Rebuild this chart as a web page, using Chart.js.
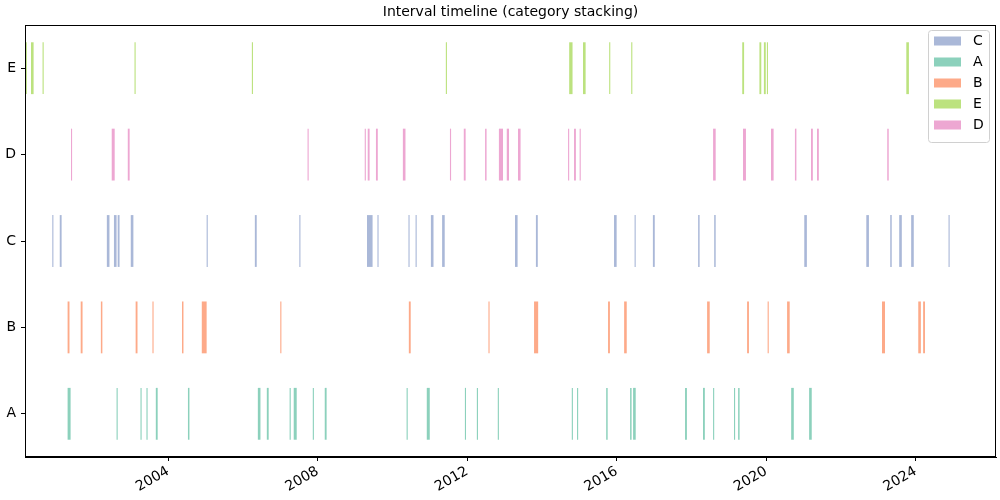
<!DOCTYPE html>
<html>
<head>
<meta charset="utf-8">
<script src="https://cdn.jsdelivr.net/npm/chart.js@4.4.1/dist/chart.umd.min.js"></script>
<style>
  body { margin: 0; background: #fff; }
  #wrap { width: 1000px; height: 500px; }
</style>
</head>
<body>
<div id="wrap"><canvas id="timeline"></canvas></div>
<script>
// rows, top to bottom
const categories = ['E', 'D', 'C', 'B', 'A'];
const tickYears = [2004, 2008, 2012, 2016, 2020, 2024];
const xMin = 2000.17;
const xMax = 2026.15;
const chartTitle = 'Interval timeline (category stacking)';

// intervals as [start, end] in decimal years
const intervalsC = [
    [2000.90, 2000.93], [2001.10, 2001.15], [2002.36, 2002.43], [2002.55, 2002.62], [2002.65, 2002.70],
    [2003.00, 2003.07], [2005.03, 2005.06], [2006.32, 2006.37], [2007.51, 2007.54], [2009.32, 2009.47],
    [2009.60, 2009.63], [2010.43, 2010.46], [2010.62, 2010.65], [2011.03, 2011.10], [2011.33, 2011.40],
    [2013.28, 2013.35], [2013.84, 2013.89], [2015.93, 2016.00], [2016.48, 2016.51], [2016.97, 2017.02],
    [2018.18, 2018.22], [2018.61, 2018.65], [2021.02, 2021.09], [2022.68, 2022.75], [2023.32, 2023.36],
    [2023.56, 2023.63], [2023.88, 2023.95], [2024.88, 2024.91]
];
const intervalsA = [
    [2001.31, 2001.39], [2002.62, 2002.65], [2003.26, 2003.29], [2003.42, 2003.45], [2003.67, 2003.72],
    [2004.53, 2004.57], [2006.40, 2006.47], [2006.64, 2006.69], [2007.25, 2007.28], [2007.36, 2007.44],
    [2007.87, 2007.90], [2008.19, 2008.24], [2010.38, 2010.41], [2010.92, 2011.00], [2011.94, 2011.97],
    [2012.26, 2012.29], [2012.82, 2012.85], [2014.80, 2014.83], [2014.94, 2014.97], [2015.72, 2015.76],
    [2016.36, 2016.40], [2016.44, 2016.51], [2017.83, 2017.88], [2018.31, 2018.36], [2018.58, 2018.61],
    [2019.14, 2019.17], [2019.25, 2019.29], [2020.67, 2020.74], [2021.15, 2021.22]
];
const intervalsB = [
    [2001.31, 2001.36], [2001.66, 2001.71], [2002.20, 2002.24], [2003.13, 2003.18], [2003.58, 2003.61],
    [2004.37, 2004.41], [2004.90, 2005.03], [2007.00, 2007.03], [2010.44, 2010.49], [2012.57, 2012.60],
    [2013.79, 2013.90], [2015.77, 2015.82], [2016.20, 2016.27], [2018.42, 2018.49], [2019.49, 2019.54],
    [2020.04, 2020.07], [2020.56, 2020.63], [2023.10, 2023.18], [2024.07, 2024.14], [2024.20, 2024.25]
];
const intervalsE = [
    [2000.19, 2000.22], [2000.33, 2000.40], [2000.64, 2000.67], [2003.10, 2003.13], [2006.24, 2006.27],
    [2011.43, 2011.46], [2014.73, 2014.82], [2015.10, 2015.17], [2015.80, 2015.83], [2016.39, 2016.42],
    [2019.36, 2019.41], [2019.82, 2019.87], [2019.94, 2019.99], [2020.02, 2020.05], [2023.75, 2023.82]
];
const intervalsD = [
    [2001.40, 2001.43], [2002.49, 2002.57], [2002.92, 2002.97], [2007.73, 2007.76], [2009.26, 2009.29],
    [2009.34, 2009.39], [2009.56, 2009.61], [2010.28, 2010.35], [2011.54, 2011.57], [2011.91, 2011.96],
    [2012.48, 2012.52], [2012.85, 2012.96], [2013.06, 2013.12], [2013.36, 2013.43], [2014.70, 2014.73],
    [2014.86, 2014.91], [2015.01, 2015.04], [2018.58, 2018.65], [2019.38, 2019.46], [2020.13, 2020.20],
    [2020.77, 2020.81], [2021.20, 2021.25], [2021.36, 2021.41], [2023.24, 2023.28]
];

// legend order
const seriesNames = ['C', 'A', 'B', 'E', 'D'];
const seriesIntervals = [intervalsC, intervalsA, intervalsB, intervalsE, intervalsD];
const seriesColors = [
    'rgba(141, 160, 203, 0.75)',
    'rgba(102, 194, 165, 0.75)',
    'rgba(252, 141, 98, 0.75)',
    'rgba(166, 216, 84, 0.75)',
    'rgba(231, 138, 195, 0.75)'
];

const FONT = 'DejaVu Sans';
Chart.defaults.font.family = FONT;
Chart.defaults.color = '#000';

const datasets = seriesNames.map(function (name, i) {
    return {
        label: name,
        data: seriesIntervals[i].map(function (iv) { return { x: iv, y: name }; }),
        backgroundColor: seriesColors[i],
        borderWidth: 0,
        grouped: false,
        barPercentage: 0.6,
        categoryPercentage: 1.0
    };
});

// black frame round the plot, title centred over the plot
const framePlugin = {
    id: 'frame',
    afterDatasetsDraw(chart) {
        const a = chart.chartArea;
        const ctx = chart.ctx;
        ctx.save();
        ctx.strokeStyle = '#000';
        ctx.lineWidth = 1;
        ctx.strokeRect(Math.round(a.left) + 0.5, Math.round(a.top) + 0.5,
            Math.round(a.right - a.left) - 1, Math.round(a.bottom - a.top) - 1);
        ctx.font = '14px ' + FONT;
        ctx.fillStyle = '#000';
        ctx.textAlign = 'center';
        ctx.textBaseline = 'alphabetic';
        ctx.fillText(chartTitle, (a.left + a.right) / 2, a.top - 9);
        ctx.restore();
    }
};

// legend box inside the plot, upper right
const insideLegend = {
    id: 'insideLegend',
    afterDraw(chart) {
        const ctx = chart.ctx;
        const a = chart.chartArea;
        const boxW = 61, rowH = 21;
        const boxH = 12 + rowH * chart.data.datasets.length - 5;
        const x0 = a.right - 7 - boxW, y0 = a.top + 5;
        ctx.save();
        ctx.beginPath();
        ctx.roundRect(x0 + 0.5, y0 + 0.5, boxW, boxH, 3);
        ctx.fillStyle = 'rgba(255,255,255,0.8)';
        ctx.fill();
        ctx.strokeStyle = '#d0d0d0';
        ctx.lineWidth = 1;
        ctx.stroke();
        ctx.font = '14px ' + FONT;
        ctx.textBaseline = 'middle';
        chart.data.datasets.forEach(function (ds, i) {
            const cy = y0 + 11 + i * rowH;
            ctx.fillStyle = ds.backgroundColor;
            ctx.fillRect(x0 + 6, cy - 4.5, 27, 9);
            ctx.fillStyle = '#000';
            ctx.fillText(ds.label, x0 + 45, cy + 0.5);
        });
        ctx.restore();
    }
};

new Chart(document.getElementById('timeline'), {
    type: 'bar',
    data: { labels: categories, datasets: datasets },
    options: {
        indexAxis: 'y',
        responsive: true,
        maintainAspectRatio: false,
        animation: false,
        layout: { padding: { top: 25, right: 4, bottom: 0, left: 0 } },
        plugins: {
            legend: { display: false },
            tooltip: { enabled: false },
            title: { display: false }
        },
        scales: {
            x: {
                type: 'linear',
                min: xMin,
                max: xMax,
                afterBuildTicks: function (axis) {
                    axis.ticks = tickYears.map(function (v) { return { value: v }; });
                },
                afterFit: function (scale) { scale.height = 43; },
                ticks: {
                    autoSkip: false,
                    minRotation: 30,
                    maxRotation: 30,
                    padding: 2,
                    font: { size: 14 },
                    callback: function (v) { return String(v); }
                },
                grid: { drawOnChartArea: false, drawTicks: true, tickLength: 4, color: '#000' },
                border: { color: '#000', width: 1 }
            },
            y: {
                type: 'category',
                afterFit: function (scale) { scale.width = 25; },
                ticks: { padding: 5, font: { size: 14 } },
                grid: { drawOnChartArea: false, drawTicks: true, tickLength: 4, color: '#000', offset: false },
                border: { color: '#000', width: 1 }
            }
        }
    },
    plugins: [framePlugin, insideLegend]
});
</script>
</body>
</html>
